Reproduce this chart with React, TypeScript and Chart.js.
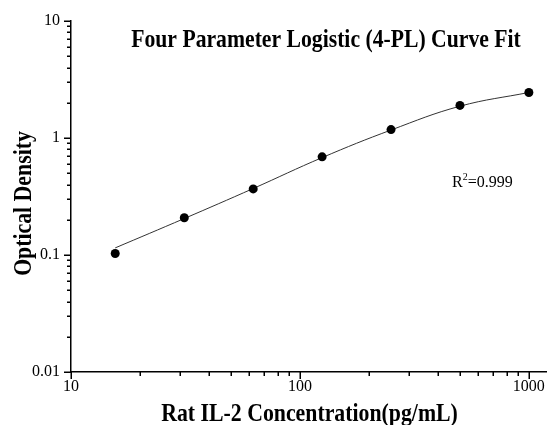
import { useEffect, useRef } from 'react';
import { Chart, registerables } from 'chart.js';

Chart.register(...registerables);

const concentrations = [15.6, 31.25, 62.5, 125, 250, 500, 1000];
const odValues = [0.103, 0.208, 0.367, 0.69, 1.18, 1.9, 2.45];
const fitValues = [0.115, 0.205, 0.37, 0.68, 1.17, 1.87, 2.45];
const xTickLabels = [10, 100, 1000];
const yTickLabels = [0.01, 0.1, 1, 10];
const titleText = 'Four Parameter Logistic (4-PL) Curve Fit';
const xTitle = 'Rat IL-2 Concentration(pg/mL)';
const yTitle = 'Optical Density';
const r2Value = '=0.999';

const SERIF = '"Liberation Serif", "Times New Roman", Times, serif';

// log-axis tick positions (decade multiples 1..9) between min and max
const logTickValues = (min: number, max: number) => {
  const out: { v: number; major: boolean }[] = [];
  const e0 = Math.floor(Math.log10(min) + 1e-9);
  const e1 = Math.ceil(Math.log10(max) - 1e-9);
  for (let e = e0; e <= e1; e++) {
    for (let s = 1; s <= 9; s++) {
      const v = s * Math.pow(10, e);
      if (v < min * (1 - 1e-9) || v > max * (1 + 1e-9)) continue;
      out.push({ v, major: s === 1 });
    }
  }
  return out;
};

const stretchedText = (
  ctx: CanvasRenderingContext2D,
  text: string,
  x: number,
  y: number,
  rot: number,
  sy: number
) => {
  ctx.save();
  ctx.translate(x, y);
  ctx.rotate(rot);
  ctx.scale(1, sy);
  ctx.fillText(text, 0, 0);
  ctx.restore();
};

const decorPlugin = {
  id: 'decor',
  afterDraw(chart: any) {
    const ctx = chart.ctx as CanvasRenderingContext2D;
    const area = chart.chartArea;
    const xs = chart.scales.x;
    const ys = chart.scales.y;
    ctx.save();
    ctx.setLineDash([]);
    ctx.globalAlpha = 1;
    ctx.fillStyle = '#000';
    const xMin = Number(xs.min) || 10;
    const xMax = Number(xs.max) || 1200;
    const yMin = Number(ys.min) || 0.01;
    const yMax = Number(ys.max) || 10;
    logTickValues(xMin, xMax).forEach(({ v, major }) => {
      const p = Math.round(xs.getPixelForValue(v));
      const len = major ? 7 : 4;
      ctx.fillRect(p - 0.5, area.bottom, 1.5, len);
    });
    logTickValues(yMin, yMax).forEach(({ v, major }) => {
      const p = Math.round(ys.getPixelForValue(v));
      const len = major ? 7 : 4;
      ctx.fillRect(area.left - len, p - 0.5, len, 1.5);
    });

    ctx.textAlign = 'center';
    ctx.textBaseline = 'alphabetic';

    // chart title
    ctx.font = `bold 21.7px ${SERIF}`;
    stretchedText(ctx, titleText, 326, 47, 0, 1.15);

    // x axis title
    ctx.font = `bold 21.8px ${SERIF}`;
    stretchedText(ctx, xTitle, 309.5, 420.5, 0, 1.15);

    // y axis title
    ctx.font = `bold 21.8px ${SERIF}`;
    stretchedText(ctx, yTitle, 31, 203.5, -Math.PI / 2, 1.18);

    // R^2 annotation
    ctx.textAlign = 'left';
    ctx.font = `16px ${SERIF}`;
    let x = 452;
    const base = 187;
    ctx.fillText('R', x, base);
    x += ctx.measureText('R').width;
    ctx.font = `10px ${SERIF}`;
    ctx.fillText('2', x, base - 7);
    x += ctx.measureText('2').width;
    ctx.font = `16px ${SERIF}`;
    ctx.fillText(r2Value, x, base);
    ctx.restore();
  },
};

export default function App() {
  const canvasRef = useRef<HTMLCanvasElement | null>(null);

  useEffect(() => {
    if (!canvasRef.current) return;
    const tickFont = { family: SERIF, size: 16 };
    const chart = new Chart(canvasRef.current, {
      type: 'scatter',
      data: {
        datasets: [
          {
            label: 'Fit',
            data: concentrations.map((c, i) => ({ x: c, y: fitValues[i] })),
            showLine: true,
            borderColor: '#333',
            borderWidth: 1,
            pointRadius: 0,
            tension: 0.4,
            order: 2,
          },
          {
            label: 'OD',
            data: concentrations.map((c, i) => ({ x: c, y: odValues[i] })),
            showLine: false,
            backgroundColor: '#000',
            borderColor: '#000',
            pointRadius: 4.5,
            pointBorderWidth: 0,
            order: 1,
          },
        ],
      },
      options: {
        responsive: false,
        animation: false,
        layout: { autoPadding: false, padding: { top: 21, left: 0, right: 0, bottom: 0 } },
        plugins: {
          legend: { display: false },
          tooltip: { enabled: false },
          title: { display: false },
        },
        scales: {
          x: {
            type: 'logarithmic',
            position: 'bottom',
            min: 10,
            max: 1200,
            grid: { display: false, drawTicks: false },
            border: { display: true, color: '#000', width: 1.5 },
            ticks: {
              autoSkip: false,
              maxRotation: 0,
              padding: 5,
              color: '#000',
              font: tickFont,
              callback: (v: any) => {
                const n = Number(v);
                const m = xTickLabels.find((t) => Math.abs(t - n) < 1e-9 * t);
                return m !== undefined ? String(m) : null;
              },
            },
            afterFit: (s: any) => {
              s.height = 53;
              s.paddingLeft = 0;
              s.paddingRight = 0;
            },
          },
          y: {
            type: 'logarithmic',
            min: 0.01,
            max: 10,
            grid: { display: false, drawTicks: false },
            border: { display: true, color: '#000', width: 1.5 },
            ticks: {
              autoSkip: false,
              padding: 11,
              color: '#000',
              font: tickFont,
              callback: (v: any) => {
                const n = Number(v);
                const m = yTickLabels.find((t) => Math.abs(t - n) < 1e-9 * t);
                return m !== undefined ? String(m) : null;
              },
            },
            afterFit: (s: any) => {
              s.width = 71;
              s.paddingTop = 0;
              s.paddingBottom = 0;
            },
          },
        },
      } as any,
      plugins: [decorPlugin],
    });
    return () => chart.destroy();
  }, []);

  return (
    <div style={{ position: 'absolute', left: 0, top: 0, width: 547, height: 425, background: '#fff' }}>
      <canvas ref={canvasRef} width={547} height={425} style={{ display: 'block' }} />
    </div>
  );
}
